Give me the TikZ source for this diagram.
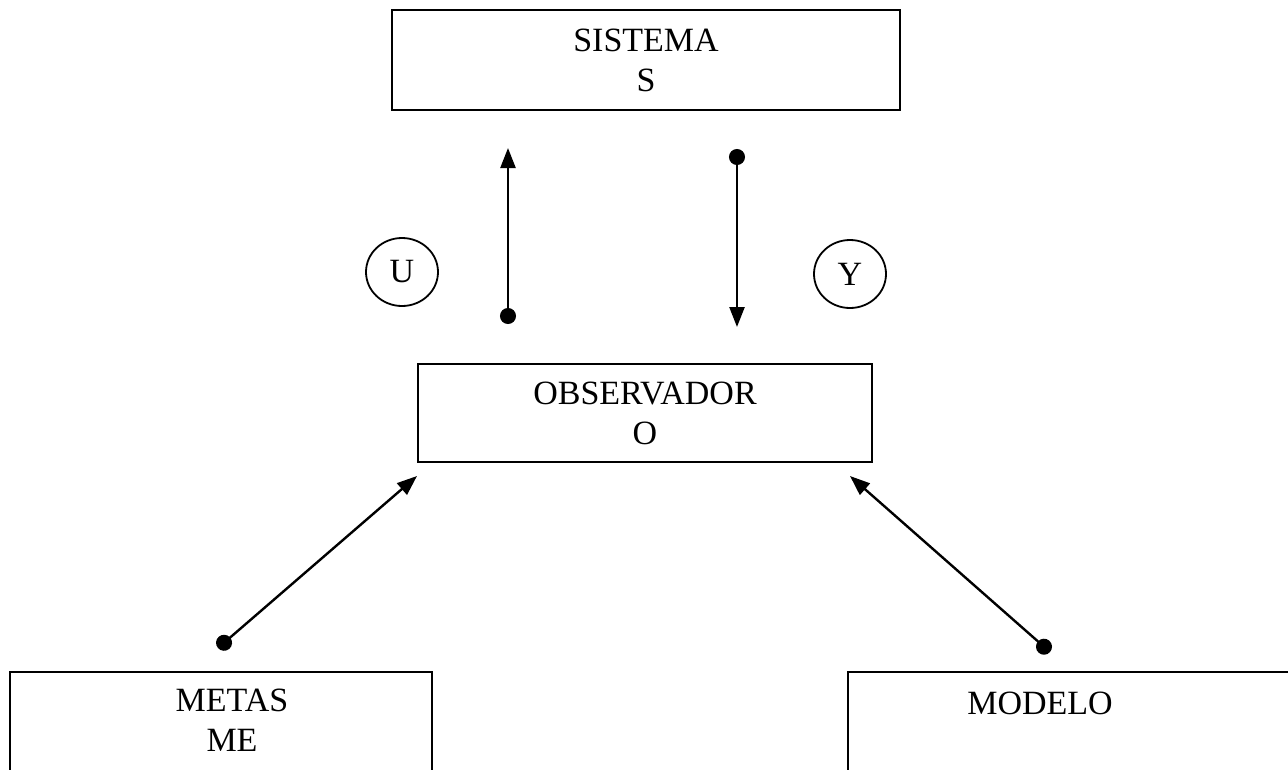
\documentclass[tikz,border=0pt]{standalone}
\usepackage{fontspec}
\setmainfont{Liberation Serif}
\usetikzlibrary{arrows.meta,shapes.geometric}
\begin{document}
\begin{tikzpicture}[x=1pt,y=-1pt,
  every node/.style={font=\fontsize{34}{40}\selectfont, inner sep=0pt},
  box/.style={draw, line width=2.4pt, rectangle},
  tag/.style={draw, line width=1.8pt, ellipse, minimum width=72pt, minimum height=68pt},
  link/.style={line width=2.4pt, {Circle[length=16pt]}-{Triangle[length=20pt,width=15pt]}}]
\useasboundingbox (0,0) rectangle (1288,769);
\clip (0,0) rectangle (1288,769);
\fill[white] (0,0) rectangle (1288,769);

% boxes
\node[box, minimum width=508pt, minimum height=100pt, align=center] (sis) at (646,60) {SISTEMA\\S};
\node[box, minimum width=454pt, minimum height=98pt, align=center] (obs) at (645,413) {OBSERVADOR\\O};
\node[box, minimum width=422pt, minimum height=120pt] (met) at (221,732) {};
\node[box, minimum width=460pt, minimum height=120pt] (mod) at (1078,732) {};
\node[align=center] (metl) at (232,720) {METAS\\ME};
\node (modl) at (1040,703) {MODELO};

% signal tags
\node[tag] (u) at (402,272) {U};
\node[tag] (y) at (850,274) {Y};

% connector end points
\coordinate (uA) at (508,324);
\coordinate (uB) at (508,148);
\coordinate (yA) at (737,149);
\coordinate (yB) at (737,327);
\coordinate (mA) at (218,648);
\coordinate (mB) at (417,476);
\coordinate (dA) at (1050,652);
\coordinate (dB) at (850,476);

\draw[link] (uA) -- (uB);
\draw[link] (yA) -- (yB);
\draw[link] (mA) -- (mB);
\draw[link] (dA) -- (dB);
\end{tikzpicture}
\end{document}
